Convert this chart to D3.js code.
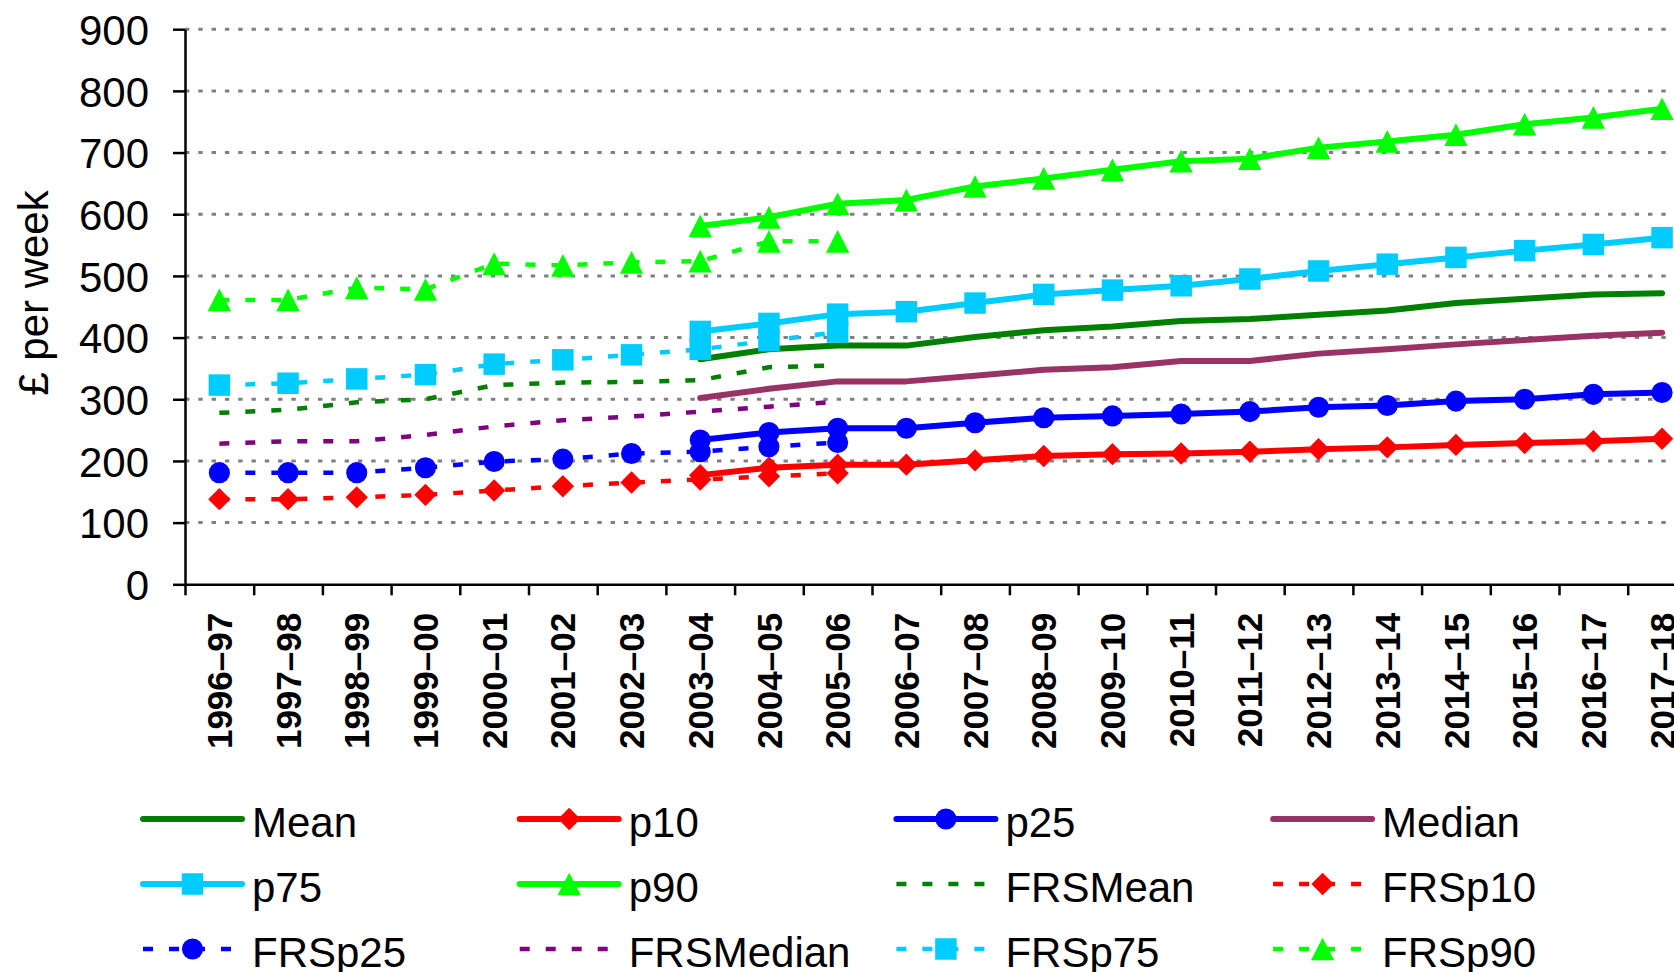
<!DOCTYPE html>
<html>
<head>
<meta charset="utf-8">
<script src="https://cdn.jsdelivr.net/npm/d3@7"></script>
<style>
body { margin: 0; background: #fff; }
svg { display: block; font-family: "Liberation Sans", Arial, sans-serif; }
</style>
</head>
<body>
<svg width="1674" height="972"></svg>
<script>
// years on the x axis
var categories = ["1996–97", "1997–98", "1998–99", "1999–00", "2000–01", "2001–02",
  "2002–03", "2003–04", "2004–05", "2005–06", "2006–07", "2007–08", "2008–09",
  "2009–10", "2010–11", "2011–12", "2012–13", "2013–14", "2014–15", "2015–16",
  "2016–17", "2017–18"];
var yTicks = [0, 100, 200, 300, 400, 500, 600, 700, 800, 900];

// series from 2003-04 onwards
var mean   = [null, null, null, null, null, null, null, 365, 381, 387, 387, 401, 412, 418, 427, 430, 437, 444, 456, 463, 470, 472];
var p10    = [null, null, null, null, null, null, null, 177, 189, 194, 194, 201, 208, 211, 212, 215, 219, 222, 226, 229, 232, 236];
var p25    = [null, null, null, null, null, null, null, 234, 246, 253, 253, 262, 270, 273, 276, 280, 287, 290, 297, 300, 308, 311];
var median = [null, null, null, null, null, null, null, 302, 317, 329, 329, 338, 348, 352, 362, 362, 374, 381, 389, 396, 403, 408];
var p75    = [null, null, null, null, null, null, null, 410, 423, 438, 442, 456, 470, 477, 484, 495, 508, 519, 530, 541, 551, 562];
var p90    = [null, null, null, null, null, null, null, 581, 595, 617, 623, 645, 658, 672, 686, 690, 708, 718, 729, 746, 757, 771];

// FRS series, 1996-97 to 2005-06
var frsMean   = [278, 283, 295, 300, 323, 327, 328, 331, 352, 355];
var frsP10    = [138, 138, 141, 145, 152, 159, 165, 170, 175, 180];
var frsP25    = [181, 181, 181, 189, 199, 203, 212, 215, 223, 230];
var frsMedian = [228, 232, 232, 242, 256, 266, 272, 280, 288, 296];
var frsP75    = [323, 326, 333, 340, 357, 364, 372, 381, 395, 409];
var frsP90    = [461, 461, 481, 478, 520, 517, 522, 524, 556, 556];

var svg = d3.select("svg"),
    plotLeft = 185,
    plotTop = 29.2,
    plotBottom = 584.3,
    band = 68.7,
    n = categories.length;

var xScale = d3.scaleBand().domain(categories).range([plotLeft, plotLeft + band * n]);
var xEdge = d3.scaleLinear().domain([0, n]).range([plotLeft, plotLeft + band * n]);
var yScale = d3.scaleLinear().domain([0, 900]).range([plotBottom, plotTop]);

// marker shapes
var triangle = {
  draw: function (ctx, size) {
    var h = Math.sqrt(size) / 2;
    ctx.moveTo(0, -h);
    ctx.lineTo(h * 1.03, h);
    ctx.lineTo(-h * 1.03, h);
    ctx.closePath();
  }
};
var markers = {
  diamond: { type: d3.symbolSquare, size: 250, rotate: 45 },
  circle: { type: d3.symbolCircle, size: 350, rotate: 0 },
  square: { type: d3.symbolSquare, size: 462, rotate: 0 },
  triangle: { type: triangle, size: 515, rotate: 0 }
};

var dotted = "10,16";
var series = [
  { name: "Mean", values: mean, color: "#008000", dash: null, marker: null },
  { name: "p10", values: p10, color: "#ff0000", dash: null, marker: "diamond" },
  { name: "p25", values: p25, color: "#0000ff", dash: null, marker: "circle" },
  { name: "Median", values: median, color: "#993366", dash: null, marker: null },
  { name: "p75", values: p75, color: "#00ccff", dash: null, marker: "square" },
  { name: "p90", values: p90, color: "#00ff00", dash: null, marker: "triangle" },
  { name: "FRSMean", values: frsMean, color: "#008000", dash: dotted, marker: null },
  { name: "FRSp10", values: frsP10, color: "#ff0000", dash: dotted, marker: "diamond" },
  { name: "FRSp25", values: frsP25, color: "#0000ff", dash: dotted, marker: "circle" },
  { name: "FRSMedian", values: frsMedian, color: "#800080", dash: dotted, marker: null },
  { name: "FRSp75", values: frsP75, color: "#00ccff", dash: dotted, marker: "square" },
  { name: "FRSp90", values: frsP90, color: "#00ff00", dash: dotted, marker: "triangle" }
];

function cx(i) { return xScale(categories[i]) + xScale.bandwidth() / 2; }

// gridlines
svg.append("g")
  .selectAll("line")
  .data(yTicks.filter(function (d) { return d > 0; }))
  .enter()
  .append("line")
  .attr("x1", plotLeft)
  .attr("x2", 1674)
  .attr("y1", function (d) { return yScale(d); })
  .attr("y2", function (d) { return yScale(d); })
  .attr("stroke", "#808080")
  .attr("stroke-width", 3)
  .attr("stroke-dasharray", "4.4,8.9");

// y axis
var yAxis = svg.append("g")
  .attr("transform", "translate(" + plotLeft + ",0)")
  .call(d3.axisLeft(yScale).tickValues(yTicks).tickSize(12).tickPadding(24).tickSizeOuter(0))
  .attr("font-size", null)
  .attr("font-family", null);
yAxis.selectAll("text").attr("font-size", "42px").attr("fill", "#000").attr("dy", "0.36em");
yAxis.selectAll("line, path").attr("stroke", "#000").attr("stroke-width", 2.5);

// x axis ticks at category edges
var xAxis = svg.append("g")
  .attr("transform", "translate(0," + plotBottom + ")")
  .call(d3.axisBottom(xEdge).tickValues(d3.range(n + 1)).tickFormat("").tickSize(11).tickSizeOuter(0));
xAxis.selectAll("line, path").attr("stroke", "#000").attr("stroke-width", 2.5);

// x labels
var xLabels = svg.append("g")
  .attr("transform", "translate(0," + plotBottom + ")")
  .call(d3.axisBottom(xScale).tickSize(0))
  .attr("font-size", null)
  .attr("font-family", null);
xLabels.select(".domain").remove();
xLabels.selectAll("text")
  .attr("transform", "rotate(-90)")
  .attr("x", -28.5)
  .attr("y", 0)
  .attr("dy", "0.36em")
  .attr("text-anchor", "end")
  .attr("font-size", "35px")
  .attr("font-weight", "bold")
  .attr("fill", "#000");

// y title
svg.append("text")
  .attr("transform", "translate(48,293) rotate(-90)")
  .attr("text-anchor", "middle")
  .attr("font-size", "42px")
  .text("£ per week");

// lines
var line = d3.line()
  .defined(function (d) { return d != null; })
  .x(function (d, i) { return cx(i); })
  .y(function (d) { return yScale(d); });

function drawMarker(sel, m, color) {
  var mk = markers[m];
  sel.attr("d", d3.symbol().type(mk.type).size(mk.size))
    .attr("fill", color);
}

series.forEach(function (s) {
  svg.append("path")
    .datum(s.values)
    .attr("fill", "none")
    .attr("stroke", s.color)
    .attr("stroke-width", s.dash ? 4.5 : 6)
    .attr("stroke-dasharray", s.dash)
    .attr("stroke-linecap", s.dash ? "butt" : "round")
    .attr("stroke-linejoin", "round")
    .attr("d", line);

  if (s.marker) {
    var pts = s.values.map(function (v, i) { return { v: v, i: i }; })
      .filter(function (d) { return d.v != null; });
    svg.append("g")
      .selectAll("path")
      .data(pts)
      .enter()
      .append("path")
      .attr("transform", function (d) {
        return "translate(" + cx(d.i) + "," + yScale(d.v) + ") rotate(" + markers[s.marker].rotate + ")";
      })
      .call(drawMarker, s.marker, s.color);
  }
});

// legend
var legend = svg.append("g");
series.forEach(function (s, k) {
  var col = k % 4, row = Math.floor(k / 4);
  var lx = 143 + col * 376.7, ly = 819 + row * 65;
  var g = legend.append("g").attr("transform", "translate(" + lx + "," + ly + ")");
  g.append("line")
    .attr("x1", 0).attr("x2", 99)
    .attr("stroke", s.color)
    .attr("stroke-width", s.dash ? 4.5 : 6)
    .attr("stroke-dasharray", s.dash)
    .attr("stroke-linecap", s.dash ? "butt" : "round");
  if (s.marker) {
    g.append("path")
      .attr("transform", "translate(49.5,0) rotate(" + markers[s.marker].rotate + ")")
      .call(drawMarker, s.marker, s.color);
  }
  g.append("text")
    .attr("x", 109)
    .attr("y", 18)
    .attr("font-size", "42px")
    .text(s.name);
});
</script>
</body>
</html>
